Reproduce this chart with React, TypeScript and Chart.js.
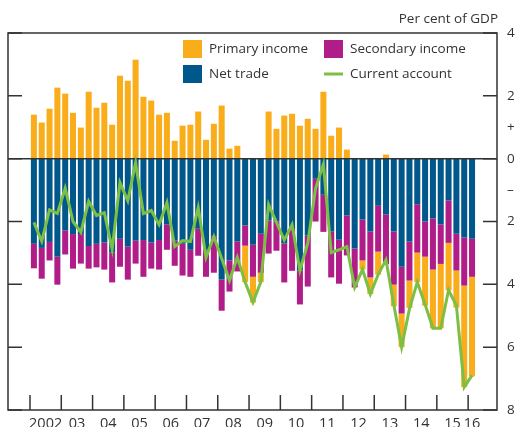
import React, { useEffect, useRef } from 'react';
import { Chart, registerables } from 'chart.js';

Chart.register(...registerables);

// Year labels (quarterly data 2002 Q1 – 2016 Q1)
const yearLabels = ['2002', '03', '04', '05', '06', '07', '08', '09', '10', '11', '12', '13', '14', '15'];
const lastYearLabel = '16';

const yTickValues = [4, 2, 0, -2, -4, -6, -8];
const yTickLabels = ['4', '2', '0', '2', '4', '6', '8'];
const signValues = [1, -1];
const signLabels = ['+', '–'];

const primaryIncome = [
  1.40, 1.15, 1.59, 2.26, 2.07, 1.46, 0.99, 2.13, 1.62, 1.78,
  1.08, 2.64, 2.48, 3.15, 1.97, 1.85, 1.40, 1.46, 0.57, 1.05,
  1.08, 1.50, 0.60, 1.11, 1.69, 0.32, 0.41, -1.16, -0.82, -0.30,
  1.50, 0.95, 1.37, 1.43, 1.05, 1.27, 0.95, 2.13, 0.73, 0.99,
  0.29, 0.00, -0.29, -0.53, -0.73, 0.13, -0.69, -1.07, -0.87, -0.94,
  -1.56, -1.87, -2.05, -1.51, -1.18, -3.23, -3.17,
];

const netTrade = [
  -2.71, -2.84, -2.65, -3.12, -2.29, -2.40, -2.40, -2.78, -2.71, -2.67,
  -2.99, -2.55, -2.80, -2.61, -2.59, -2.67, -2.59, -2.10, -2.61, -2.71,
  -2.90, -2.23, -2.90, -2.48, -3.85, -3.24, -2.64, -2.13, -2.74, -2.39,
  -1.97, -2.00, -2.70, -2.24, -3.56, -2.45, -0.64, -1.15, -2.32, -2.58,
  -1.81, -2.86, -1.94, -2.32, -1.50, -1.78, -2.32, -3.44, -2.64, -1.45,
  -2.00, -1.90, -2.09, -1.33, -2.39, -2.51, -2.55,
];

const secondaryIncome = [
  -0.78, -0.98, -0.59, -0.89, -0.76, -1.10, -0.94, -0.72, -0.75, -0.86,
  -0.95, -0.89, -1.05, -0.73, -1.17, -0.83, -0.94, -0.80, -0.80, -1.01,
  -0.86, -0.86, -0.86, -1.15, -0.99, -0.99, -0.95, -0.64, -1.02, -1.24,
  -1.05, -0.93, -1.24, -1.33, -1.08, -1.62, -1.36, -1.18, -1.46, -1.40,
  -1.27, -1.24, -1.30, -1.46, -1.46, -1.58, -1.69, -1.49, -1.24, -1.54,
  -1.12, -1.63, -1.26, -1.35, -1.17, -1.53, -1.21,
];

const currentAccount = [
  -2.03, -2.63, -1.63, -1.74, -0.94, -2.00, -2.34, -1.36, -1.81, -1.72,
  -2.88, -0.76, -1.34, -0.13, -1.75, -1.65, -2.10, -1.40, -2.80, -2.61,
  -2.64, -1.56, -3.14, -2.48, -3.18, -3.88, -3.14, -3.93, -4.57, -3.93,
  -1.46, -2.03, -2.59, -2.10, -3.56, -2.70, -0.95, -0.17, -2.99, -2.90,
  -2.80, -4.09, -3.53, -4.31, -3.69, -3.22, -4.65, -6.00, -4.78, -3.93,
  -4.64, -5.40, -5.40, -4.18, -4.68, -7.27, -6.90,
];

const COLORS = {
  primary: '#F9AD1A',
  secondary: '#B01C88',
  trade: '#00578C',
  current: '#7BBF45',
  ink: '#333333',
};

const FONT = "'Open Sans', 'Noto Sans', sans-serif";

const toPoints = (arr: number[]) => arr.map((v, i) => ({ x: i, y: v }));

const decorPlugin = {
  id: 'decor',
  beforeDatasetDraw(chart: any, args: any) {
    if (args.meta.type !== 'line') return;
    const { ctx, chartArea: a, scales } = chart;
    const y0 = scales.y.getPixelForValue(0);
    ctx.save();
    ctx.strokeStyle = COLORS.ink;
    ctx.lineWidth = 1.5;
    ctx.beginPath();
    ctx.moveTo(a.left, y0);
    ctx.lineTo(a.right, y0);
    ctx.stroke();
    ctx.restore();
  },
  afterDraw(chart: any) {
    const { ctx, chartArea: a, scales } = chart;
    const xs = scales.x;
    const ys = scales.y;
    ctx.save();
    ctx.strokeStyle = COLORS.ink;
    ctx.fillStyle = COLORS.ink;
    ctx.lineWidth = 1.5;
    // frame
    ctx.strokeRect(a.left, a.top, a.right - a.left, a.bottom - a.top);
    // y ticks (inside, both sides) and right labels
    ctx.font = `13.5px ${FONT}`;
    ctx.textAlign = 'left';
    ctx.textBaseline = 'middle';
    yTickValues.forEach((v, i) => {
      const py = ys.getPixelForValue(v);
      ctx.beginPath();
      ctx.moveTo(a.left, py);
      ctx.lineTo(a.left + 14, py);
      ctx.moveTo(a.right - 14, py);
      ctx.lineTo(a.right, py);
      ctx.stroke();
      ctx.fillText(yTickLabels[i], a.right + 10, py);
    });
    signValues.forEach((v, i) => {
      ctx.fillText(signLabels[i], a.right + 10, ys.getPixelForValue(v));
    });
    // x ticks at year boundaries
    for (let k = 0; k <= yearLabels.length; k++) {
      const px = xs.getPixelForValue(k * 4 - 0.5);
      ctx.beginPath();
      ctx.moveTo(px, a.bottom);
      ctx.lineTo(px, a.bottom - 15);
      ctx.stroke();
    }
    ctx.font = `14.5px ${FONT}`;
    ctx.textAlign = 'center';
    ctx.textBaseline = 'alphabetic';
    yearLabels.forEach((t, k) => {
      ctx.fillText(t, xs.getPixelForValue(k * 4 + 1.5), a.bottom + 18);
    });
    ctx.fillText(lastYearLabel, xs.getPixelForValue(yearLabels.length * 4), a.bottom + 18);
    // unit label
    ctx.font = `13.5px ${FONT}`;
    ctx.textAlign = 'right';
    ctx.textBaseline = 'middle';
    ctx.fillText('Per cent of GDP', a.right + 1, 19);
    // legend
    ctx.textAlign = 'left';
    const items = [
      { label: 'Primary income', color: COLORS.primary, x: 183, y: 40, line: false },
      { label: 'Secondary income', color: COLORS.secondary, x: 324, y: 40, line: false },
      { label: 'Net trade', color: COLORS.trade, x: 183, y: 65, line: false },
      { label: 'Current account', color: COLORS.current, x: 324, y: 65, line: true },
    ];
    items.forEach((it) => {
      if (it.line) {
        ctx.strokeStyle = it.color;
        ctx.lineWidth = 3;
        ctx.beginPath();
        ctx.moveTo(it.x, it.y + 9);
        ctx.lineTo(it.x + 19, it.y + 9);
        ctx.stroke();
      } else {
        ctx.fillStyle = it.color;
        ctx.fillRect(it.x, it.y, 19, 18);
      }
      ctx.fillStyle = COLORS.ink;
      ctx.fillText(it.label, it.x + 26, it.y + 9.5);
    });
    ctx.restore();
  },
};

export default function App() {
  const ref = useRef<HTMLCanvasElement | null>(null);
  useEffect(() => {
    if (!ref.current) return;
    const chart = new Chart(ref.current, {
      type: 'bar',
      data: {
        datasets: [
          {
            type: 'bar',
            label: 'Net trade',
            data: toPoints(netTrade),
            backgroundColor: COLORS.trade,
            stack: 'a',
            barPercentage: 0.77,
            categoryPercentage: 1,
          },
          {
            type: 'bar',
            label: 'Secondary income',
            data: toPoints(secondaryIncome),
            backgroundColor: COLORS.secondary,
            stack: 'a',
            barPercentage: 0.77,
            categoryPercentage: 1,
          },
          {
            type: 'bar',
            label: 'Primary income',
            data: toPoints(primaryIncome),
            backgroundColor: COLORS.primary,
            stack: 'a',
            barPercentage: 0.77,
            categoryPercentage: 1,
          },
          {
            type: 'line',
            label: 'Current account',
            data: toPoints(currentAccount),
            borderColor: COLORS.current,
            borderWidth: 3,
            pointRadius: 0,
            tension: 0,
            fill: false,
            stack: 'ca',
            order: -1,
          } as any,
        ],
      },
      options: {
        responsive: false,
        animation: false,
        layout: { padding: { left: 8, right: 18, top: 33, bottom: 17 } },
        plugins: { legend: { display: false }, tooltip: { enabled: false } },
        scales: {
          x: { type: 'linear', display: false, stacked: true, offset: false, min: -3.31, max: 59.19 },
          y: { type: 'linear', display: false, stacked: true, min: -8, max: 4 },
        },
      },
      plugins: [decorPlugin],
    } as any);
    return () => chart.destroy();
  }, []);
  return (
    <div style={{ position: 'fixed', left: 0, top: 0, width: 515, height: 427, background: '#fff' }}>
      <canvas ref={ref} width={515} height={427} style={{ display: 'block', width: 515, height: 427 }} />
    </div>
  );
}
